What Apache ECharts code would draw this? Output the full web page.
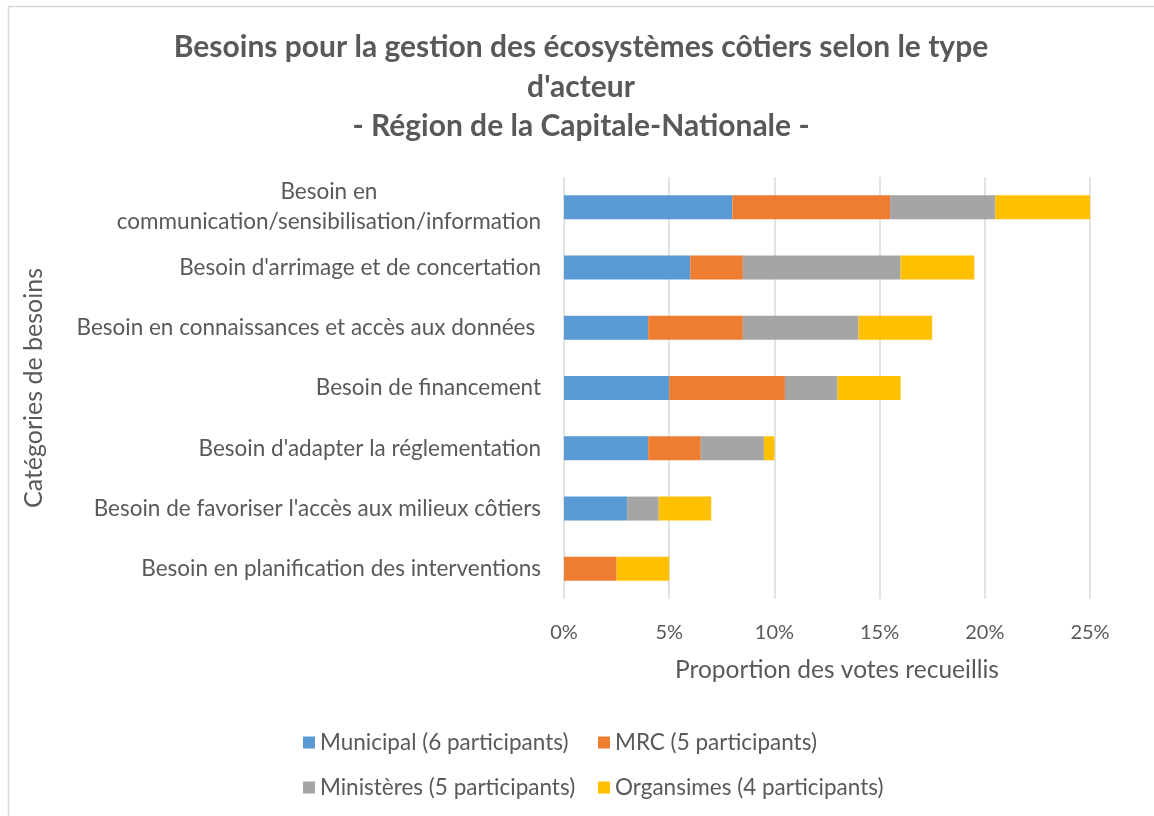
<!DOCTYPE html>
<html>
<head>
<meta charset="utf-8">
<script src="https://cdn.jsdelivr.net/npm/echarts@6/dist/echarts.min.js"></script>
<style>
  html, body { margin: 0; padding: 0; background: #fff; }
  #chart { width: 1154px; height: 816px; }
</style>
</head>
<body>
<div id="chart"></div>
<script>
const categories = [
  'Besoin en\ncommunication/sensibilisation/information',
  "Besoin d'arrimage et de concertation",
  'Besoin en connaissances et accès aux données ',
  'Besoin de financement',
  "Besoin d'adapter la réglementation",
  "Besoin de favoriser l'accès aux milieux côtiers",
  'Besoin en planification des interventions'
]
const municipal = [8, 6, 4, 5, 4, 3, 0]
const mrc = [7.5, 2.5, 4.5, 5.5, 2.5, 0, 2.5]
const ministeres = [5, 7.5, 5.5, 2.5, 3, 1.5, 0]
const organismes = [4.5, 3.5, 3.5, 3, 0.5, 2.5, 2.5]
const seriesNames = [
  'Municipal (6 participants)',
  'MRC (5 participants)',
  'Ministères (5 participants)',
  'Organsimes (4 participants)'
]
const xTicks = [0, 5, 10, 15, 20, 25]
const titleText = "Besoins pour la gestion des écosystèmes côtiers selon le type\nd'acteur\n- Région de la Capitale-Nationale -"

const FONT = 'Lato, "Liberation Sans", sans-serif'
const TEXT = '#595959'
const labelSize = 22.5

// largeur du texte pour centrer les étiquettes sur deux lignes
const ctx = document.createElement('canvas').getContext('2d')
ctx.font = labelSize + 'px ' + FONT
const measure = s => ctx.measureText(s).width

const chart = echarts.init(document.getElementById('chart'))

const colors = ['#5B9BD5', '#ED7D31', '#A5A5A5', '#FFC000']
const values = [municipal, mrc, ministeres, organismes]
const twoLine = categories[0].split('\n')

const legendText = { color: TEXT, fontSize: labelSize, lineHeight: 22, fontFamily: FONT }

chart.setOption({
  backgroundColor: '#fff',
  textStyle: { fontFamily: FONT },
  graphic: [
    {
      type: 'rect',
      shape: { x: 8.5, y: 6.5, width: 1300, height: 1000 },
      style: { fill: 'none', stroke: '#d9d9d9', lineWidth: 1.5 },
      silent: true
    },
    {
      // titre centré un peu à droite, comme dans Excel
      type: 'text',
      x: 581,
      y: 28,
      silent: true,
      style: {
        text: titleText,
        align: 'center',
        fill: TEXT,
        font: 'bold 30px ' + FONT,
        lineHeight: 39.5
      }
    }
  ],
  legend: [
    {
      data: [seriesNames[0], seriesNames[2]],
      orient: 'vertical',
      left: 298,
      top: 726,
      itemWidth: 12,
      itemHeight: 12,
      itemGap: 22,
      icon: 'rect',
      textStyle: legendText
    },
    {
      data: [seriesNames[1], seriesNames[3]],
      orient: 'vertical',
      left: 593,
      top: 726,
      itemWidth: 12,
      itemHeight: 12,
      itemGap: 22,
      icon: 'rect',
      textStyle: legendText
    }
  ],
  grid: {
    left: 564,
    right: 64,
    top: 177,
    height: 422
  },
  xAxis: {
    type: 'value',
    min: xTicks[0],
    max: xTicks[xTicks.length - 1],
    interval: 5,
    axisLine: { show: false },
    axisTick: { show: false },
    splitLine: { lineStyle: { color: '#d9d9d9', width: 1.5 } },
    axisLabel: {
      color: TEXT,
      fontSize: 20,
      margin: 24,
      formatter: '{value}%'
    },
    name: 'Proportion des votes recueillis',
    nameLocation: 'middle',
    nameGap: 59,
    nameTextStyle: { color: TEXT, fontSize: 24.5, padding: [0, 0, 0, 20] }
  },
  yAxis: {
    type: 'category',
    data: categories,
    inverse: true,
    axisLine: { show: false },
    axisTick: { show: false },
    axisLabel: {
      color: TEXT,
      fontSize: labelSize,
      margin: 23,
      lineHeight: 30,
      formatter: v => v.includes('\n') ? v.split('\n').map(l => '{c|' + l + '}').join('\n') : v,
      rich: {
        c: { width: Math.max(...twoLine.map(measure)), align: 'center', fontSize: labelSize, color: TEXT, lineHeight: 30 }
      }
    },
    name: 'Catégories de besoins',
    nameLocation: 'middle',
    nameGap: 518,
    nameTextStyle: { color: TEXT, fontSize: 25 }
  },
  series: values.map((arr, i) => ({
    name: seriesNames[i],
    type: 'bar',
    stack: 'total',
    data: arr,
    barWidth: 24,
    itemStyle: { color: colors[i] }
  }))
})
</script>
</body>
</html>
